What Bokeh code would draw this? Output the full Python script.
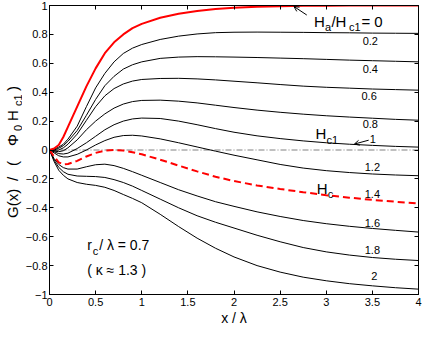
import math
from bokeh.plotting import figure
from bokeh.layouts import row
from bokeh.models import LinearAxis, FixedTicker, Label, Arrow, OpenHead, Range1d, Span
from bokeh.embed import file_html
from bokeh.resources import INLINE

FONT = "Liberation Sans"

# x / lambda sample positions
XS = [0, 0.05, 0.1, 0.15, 0.2, 0.3, 0.4, 0.5, 0.6, 0.7, 0.8, 0.9, 1.0, 1.2, 1.4,
      1.6, 1.8, 2.0, 2.25, 2.5, 2.75, 3.0, 3.25, 3.5, 3.75, 4.0]

# G(x)/(Phi0 Hc1) for each applied field Ha/Hc1
G_H00 = [0, 0.01, 0.035, 0.09, 0.16, 0.30, 0.44, 0.565, 0.67, 0.745, 0.80, 0.843, 0.873,
         0.915, 0.943, 0.962, 0.975, 0.984, 0.991, 0.995, 0.998, 0.999, 1.0, 1.0, 1.0, 1.0]
G_H02 = [0, 0.005, 0.02, 0.04, 0.075, 0.165, 0.30, 0.43, 0.53, 0.61, 0.668, 0.705, 0.73,
         0.765, 0.788, 0.803, 0.812, 0.815, 0.816, 0.815, 0.814, 0.812, 0.811, 0.809, 0.808, 0.807]
G_H04 = [0, 0.0, 0.012, 0.03, 0.06, 0.135, 0.24, 0.35, 0.445, 0.51, 0.56, 0.59, 0.61,
         0.634, 0.643, 0.646, 0.645, 0.643, 0.64, 0.636, 0.632, 0.627, 0.622, 0.618, 0.614, 0.61]
G_H06 = [0, -0.003, 0.0, 0.015, 0.04, 0.11, 0.205, 0.30, 0.375, 0.425, 0.457, 0.477, 0.488,
         0.495, 0.496, 0.492, 0.485, 0.476, 0.465, 0.453, 0.442, 0.434, 0.428, 0.422, 0.418, 0.414]
G_H08 = [0, -0.007, -0.012, -0.005, 0.015, 0.07, 0.14, 0.20, 0.25, 0.29, 0.318, 0.335, 0.343,
         0.345, 0.338, 0.326, 0.31, 0.294, 0.276, 0.261, 0.248, 0.237, 0.228, 0.22, 0.212, 0.206]
G_H10 = [0, -0.012, -0.025, -0.028, -0.022, 0.01, 0.05, 0.095, 0.14, 0.175, 0.2, 0.215, 0.221,
         0.218, 0.2, 0.175, 0.148, 0.123, 0.098, 0.079, 0.063, 0.05, 0.04, 0.032, 0.025, 0.02]
G_H12 = [0, -0.02, -0.04, -0.048, -0.048, -0.03, 0.0, 0.035, 0.065, 0.088, 0.1, 0.102, 0.097,
         0.077, 0.05, 0.021, -0.008, -0.036, -0.068, -0.1, -0.125, -0.143, -0.156, -0.166, -0.173, -0.178]
G_HC = [0, -0.045, -0.085, -0.1, -0.097, -0.075, -0.045, -0.02, -0.004, 0.0, -0.004, -0.015, -0.03,
        -0.067, -0.108, -0.148, -0.185, -0.215, -0.245, -0.27, -0.292, -0.313, -0.33, -0.345, -0.358, -0.37]
G_H16 = [0, -0.06, -0.1, -0.122, -0.132, -0.132, -0.116, -0.102, -0.098, -0.108, -0.127, -0.15, -0.175,
         -0.225, -0.275, -0.318, -0.358, -0.39, -0.428, -0.46, -0.488, -0.51, -0.528, -0.543, -0.556, -0.568]
G_H18 = [0, -0.07, -0.12, -0.15, -0.168, -0.18, -0.182, -0.184, -0.19, -0.205, -0.225, -0.25, -0.28,
         -0.34, -0.40, -0.455, -0.50, -0.54, -0.59, -0.635, -0.675, -0.705, -0.727, -0.744, -0.756, -0.765]
G_H20 = [0, -0.08, -0.14, -0.175, -0.2, -0.225, -0.237, -0.245, -0.258, -0.28, -0.308, -0.335, -0.365,
         -0.445, -0.53, -0.61, -0.68, -0.74, -0.80, -0.845, -0.88, -0.905, -0.925, -0.94, -0.953, -0.963]

BLACK_CURVES = [G_H02, G_H04, G_H06, G_H08, G_H10, G_H12, G_H16, G_H18, G_H20]

# curve labels
CURVE_LABELS = ["0.2", "0.4", "0.6", "0.8", "1", "1.2", "1.4", "1.6", "1.8", "2"]
CURVE_LABEL_X = [3.478, 3.478, 3.465, 3.478, 3.505, 3.5, 3.5, 3.5, 3.5, 3.52]
CURVE_LABEL_Y = [0.755, 0.561, 0.375, 0.182, 0.079, -0.115, -0.304, -0.502, -0.689, -0.875]

X_TICKS = [0, 0.5, 1, 1.5, 2, 2.5, 3, 3.5, 4]
X_TICK_LABELS = ["0", "0.5", "1", "1.5", "2", "2.5", "3", "3.5", "4"]
Y_TICKS = [-1, -0.8, -0.6, -0.4, -0.2, 0, 0.2, 0.4, 0.6, 0.8, 1]
Y_TICK_LABELS = ["\u22121", "\u22120.8", "\u22120.6", "\u22120.4", "\u22120.2", "0",
                 "0.2", "0.4", "0.6", "0.8", "1"]
X_TITLE = "x / \u03bb"

# y-axis title, split into main-size and subscript pieces
YT_MAIN = ["G(x)", "/", "(", "\u03a6", "H", ")"]
YT_MAIN_POS = [-68, -31, -16, 4, 29, 59]        # px along the axis from y = 0 (up positive)
YT_SUB = ["0", "c1"]
YT_SUB_POS = [19, 44]

W_TITLE = 22
W_MAIN = 402
H = 328
B_BOTTOM = 34
B_TOP = 5

# ---------------- main plot ----------------
p = figure(width=W_MAIN, height=H, output_backend="svg", toolbar_location=None,
           x_range=Range1d(0, 4), y_range=Range1d(-1, 1),
           min_border_left=20, min_border_right=6, min_border_top=B_TOP,
           min_border_bottom=B_BOTTOM,
           background_fill_color="white", border_fill_color="white")
p.grid.visible = False
p.outline_line_color = "black"
p.outline_line_width = 1

xa = p.xaxis[0]
xa.ticker = FixedTicker(ticks=X_TICKS)
xa.major_label_overrides = dict(zip(X_TICKS, X_TICK_LABELS))
xa.major_tick_in = 4
xa.major_tick_out = 0
xa.minor_tick_in = 0
xa.minor_tick_out = 0
xa.major_label_text_font = FONT
xa.major_label_text_font_size = "11px"
xa.major_label_text_color = "black"
xa.major_label_standoff = 3
xa.axis_label = X_TITLE
xa.axis_label_text_font = FONT
xa.axis_label_text_font_size = "14px"
xa.axis_label_text_font_style = "normal"
xa.axis_label_text_color = "black"
xa.axis_label_standoff = 1
xa.axis_line_color = "black"

ya = p.yaxis[0]
ya.ticker = FixedTicker(ticks=Y_TICKS)
ya.major_label_overrides = dict(zip(Y_TICKS, Y_TICK_LABELS))
ya.major_tick_in = 4
ya.major_tick_out = 0
ya.minor_tick_in = 0
ya.minor_tick_out = 0
ya.major_label_text_font = FONT
ya.major_label_text_font_size = "11px"
ya.major_label_text_color = "black"
ya.major_label_standoff = 2
ya.axis_line_color = "black"


def hidden_axis(ticks):
    ax = LinearAxis(ticker=FixedTicker(ticks=ticks))
    ax.major_tick_in = 4
    ax.major_tick_out = 0
    ax.minor_tick_in = 0
    ax.minor_tick_out = 0
    ax.major_label_text_font_size = "0px"
    ax.major_label_text_color = None
    ax.major_label_standoff = 0
    ax.axis_line_color = "black"
    return ax


p.add_layout(hidden_axis(X_TICKS), "above")
p.add_layout(hidden_axis(Y_TICKS), "right")

# zero reference line (dash-dot)
p.add_layout(Span(location=0, dimension="width", line_color="#808080", line_width=1,
                  line_dash="6 2 1 2", level="underlay"))

for ys in BLACK_CURVES:
    p.line(XS, ys, line_color="black", line_width=1)
p.line(XS, G_H00, line_color="#ff0000", line_width=2)
p.line(XS, G_HC, line_color="#ff0000", line_width=2, line_dash="7 4")


def label(fig, x, y, text, size, dx=0, dy=0, align="left", baseline="alphabetic", angle=0.0):
    fig.add_layout(Label(x=x, y=y, x_offset=dx, y_offset=dy, text=text, text_font=FONT,
                         text_font_size=f"{size}px", text_align=align, text_baseline=baseline,
                         text_color="black", angle=angle))


for t, lx, ly in zip(CURVE_LABELS, CURVE_LABEL_X, CURVE_LABEL_Y):
    label(p, lx, ly, t, 11, align="center", baseline="middle")

# Ha/Hc1 = 0
label(p, 2.867, 0.89, "H", 15)
label(p, 2.867, 0.89, "a", 11, dx=11, dy=-6)
label(p, 2.867, 0.89, "/H", 15, dx=17.4)
label(p, 2.867, 0.89, "c1", 11, dx=35, dy=-6)
label(p, 2.867, 0.89, "= 0", 15, dx=47.4)
p.add_layout(Arrow(x_start=2.789, y_start=0.934, x_end=2.65, y_end=0.993,
                   end=OpenHead(size=5, line_width=1, line_color="black"),
                   line_color="black", line_width=1))

# Hc1
label(p, 2.884, 0.112, "H", 15)
label(p, 2.884, 0.112, "c1", 11, dx=11, dy=-6.5)
p.add_layout(Arrow(x_start=3.46, y_start=0.068, x_end=3.305, y_end=0.041,
                   end=OpenHead(size=5, line_width=1, line_color="black"),
                   line_color="black", line_width=1))

# Hc
label(p, 2.898, -0.265, "H", 15)
label(p, 2.898, -0.265, "c", 11, dx=11, dy=-6)

# rc / lambda = 0.7  (kappa ~ 1.3)
label(p, 0.408, -0.66, "r", 14)
label(p, 0.408, -0.66, "c", 11, dx=5.5, dy=-6)
label(p, 0.408, -0.66, "/ \u03bb = 0.7", 14, dx=12)
label(p, 0.408, -0.83, "( \u03ba \u2248 1.3 )", 14)

# ---------------- y-axis title strip ----------------
pt = figure(width=W_TITLE, height=H, output_backend="svg", toolbar_location=None,
            x_range=Range1d(0, W_TITLE), y_range=Range1d(-1, 1),
            x_axis_location=None, y_axis_location=None,
            min_border_left=0, min_border_right=0, min_border_top=B_TOP,
            min_border_bottom=B_BOTTOM,
            background_fill_color="white", border_fill_color="white")
pt.grid.visible = False
pt.outline_line_color = None

A = math.pi / 2
for t, pos in zip(YT_MAIN, YT_MAIN_POS):
    label(pt, 11.5, 0, t, 15, dy=pos, angle=A)
for t, pos in zip(YT_SUB, YT_SUB_POS):
    label(pt, 17, 0, t, 11, dy=pos, angle=A)

layout = row(pt, p)
open("out.html", "w").write(file_html(layout, INLINE))
